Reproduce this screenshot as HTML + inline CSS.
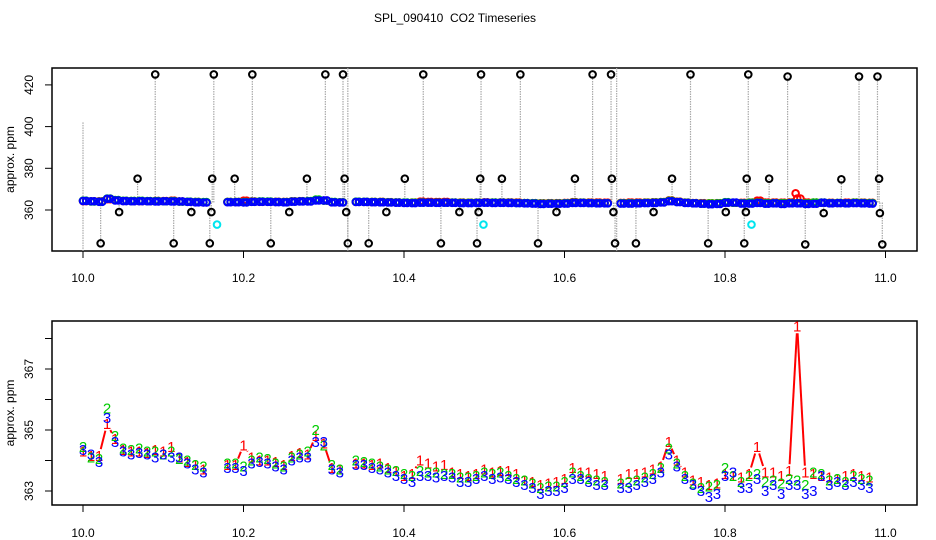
<!DOCTYPE html>
<html><head><meta charset="utf-8"><style>
html,body{margin:0;padding:0;background:#fff;}
svg{display:block;font-family:"Liberation Sans",sans-serif;}
</style></head><body>
<svg id="c" width="936" height="540" viewBox="0 0 936 540">
<text x="455" y="22" font-size="12" text-anchor="middle" style="white-space:pre">SPL_090410  CO2 Timeseries</text>
<g id="topPanel"></g>
<g id="botPanel"></g>
</svg>
<script>
const t0 = 10.0, dt = 0.01;
const xTicks = [10.0, 10.2, 10.4, 10.6, 10.8, 11.0];
const xTickLabels = ["10.0","10.2","10.4","10.6","10.8","11.0"];
const topYTicks = [360, 380, 400, 420];
const botYTicks = [363, 364, 365, 366, 367, 368];
const botYLabels = [363, 365, 367];
const s3 = [364.35,364.2,363.95,365.4,364.6,364.3,364.2,364.25,364.2,364.1,364.2,364.1,364.1,363.9,363.7,363.6,null,null,363.75,363.75,363.65,363.9,363.95,363.9,363.8,363.7,364.0,364.1,364.1,364.6,364.6,363.7,363.6,null,363.85,363.85,363.75,363.7,363.6,363.5,363.4,363.3,363.5,363.5,363.45,363.5,363.45,363.3,363.3,363.4,363.5,363.4,363.45,363.4,363.3,363.2,363.1,362.9,363.0,363.0,363.1,363.4,363.4,363.3,363.2,363.2,null,363.1,363.1,363.2,363.3,363.4,363.6,364.2,363.8,363.4,363.2,363.0,362.8,362.9,363.5,363.6,363.1,363.1,363.4,363.0,363.2,362.9,363.2,363.2,362.9,363.0,363.5,363.2,363.3,363.2,363.3,363.2,363.1];
const s2 = [364.45,364.1,364.05,365.7,364.8,364.4,364.35,364.4,364.3,364.3,364.2,364.3,364.05,364.0,363.85,363.8,null,null,363.9,363.9,363.8,364.0,364.1,364.05,363.9,363.8,364.1,364.2,364.3,365.0,364.5,363.85,363.7,null,364.0,363.95,363.9,363.8,363.7,363.65,363.55,363.5,363.65,363.6,363.6,363.55,363.55,363.45,363.45,363.5,363.6,363.55,363.6,363.5,363.4,363.35,363.25,363.1,363.15,363.15,363.3,363.6,363.5,363.4,363.35,363.3,null,363.25,363.3,363.35,363.45,363.55,363.75,364.4,363.9,363.5,363.25,363.1,363.15,363.2,363.75,363.5,363.3,363.5,363.55,363.3,363.35,363.25,363.4,363.35,363.2,363.6,363.55,363.35,363.4,363.3,363.5,363.4,363.35];
const s1 = [364.3,364.15,364.15,365.2,364.7,364.35,364.3,364.3,364.25,364.35,364.3,364.45,364.1,363.95,363.85,363.7,null,null,363.85,363.85,364.5,364.1,364.0,364.0,363.95,363.85,364.15,364.25,364.2,364.8,364.55,363.75,363.7,null,363.9,363.9,363.85,363.9,363.75,363.65,363.5,363.55,364.0,363.9,363.8,363.85,363.6,363.55,363.5,363.55,363.7,363.6,363.65,363.65,363.55,363.35,363.3,363.2,363.25,363.3,363.4,363.75,363.6,363.6,363.55,363.5,null,363.4,363.55,363.55,363.6,363.7,363.8,364.6,364.0,363.6,363.35,363.3,363.2,363.25,363.55,363.5,363.45,363.55,364.45,363.6,363.6,363.5,363.65,368.4,363.6,363.55,363.5,363.45,363.4,363.5,363.55,363.5,363.45];
const outT = [10.022,10.045,10.068,10.090,10.113,10.135,10.158,10.160,10.161,10.163,10.189,10.211,10.234,10.257,10.279,10.302,10.324,10.326,10.328,10.330,10.356,10.378,10.401,10.424,10.446,10.469,10.491,10.493,10.495,10.496,10.522,10.545,10.567,10.590,10.613,10.635,10.658,10.659,10.661,10.663,10.689,10.711,10.734,10.757,10.779,10.801,10.824,10.826,10.827,10.829,10.855,10.878,10.900,10.923,10.945,10.967,10.990,10.992,10.993,10.996];
const outV = [344,359,375,425,344,359,344,359,375,425,375,425,344,359,375,425,425,375,359,344,344,359,375,425,344,359,344,359,375,425,375,425,344,359,375,425,425,375,359,344,344,359,375,425,344,359,344,359,375,425,375,424,343.5,358.5,374.7,424,424,375,358.5,343.5];
const cyanT = [10.167,10.499,10.833];
const cyanV = [353,353,353];
const redOutT = [10.888];
const redOutV = [368];

const NS = "http://www.w3.org/2000/svg";
const X = t => 83 + (t - 10) * 802.5;
const Ytop = v => 210 - (v - 360) * 2.085;
const Ybot = v => 491 - (v - 363) * 30.5;
function mk(tag, attrs, parent) {
  const e = document.createElementNS(NS, tag);
  for (const k in attrs) e.setAttribute(k, attrs[k]);
  parent.appendChild(e);
  return e;
}
const gTop = document.getElementById('topPanel'), gBot = document.getElementById('botPanel');

function axes(g, y0, y1, labY, yt, yfn, ylabels) {
  const box = mk('rect', {x:52, y:y0, width:865, height:y1-y0, fill:'none', stroke:'#000', 'stroke-width':1.5}, g);
  
  
  xTicks.forEach((t, i) => {
    const l = mk('line', {x1:X(t), x2:X(t), y1:y1, y2:y1+7, stroke:'#000'}, g);
    
    
    const tx = mk('text', {x:X(t), y:labY, 'font-size':12, 'text-anchor':'middle'}, g);
    tx.textContent = xTickLabels[i];
    
    
  });
  yt.forEach(v => {
    const l = mk('line', {x1:45, x2:52, y1:yfn(v), y2:yfn(v), stroke:'#000'}, g);
    
    
  });
  ylabels.forEach(v => {
    const tx = mk('text', {x:0, y:0, 'font-size':12, 'text-anchor':'middle', transform:`translate(33,${yfn(v)}) rotate(-90)`}, g);
    tx.textContent = v;
    
    
  });
  const at = mk('text', {x:0, y:0, 'font-size':12, 'text-anchor':'middle', transform:`translate(14,${(y0+y1)/2}) rotate(-90)`}, g);
  at.textContent = 'approx. ppm';
  
  
}
axes(gTop, 68, 251, 282, topYTicks, Ytop, topYTicks);
axes(gBot, 321, 505, 537, botYTicks, Ybot, botYLabels);

[[10.0,402,340],[10.33,430,340],[10.665,430,340]].forEach(a => {
  const l = mk('line', {x1:X(a[0]), x2:X(a[0]), y1:Math.max(68,Ytop(a[1])), y2:251, stroke:'#aaa', 'stroke-width':1.2, 'stroke-dasharray':'1.5 1'}, gTop);
  
  
});
outT.forEach((t, i) => {
  const l = mk('line', {x1:X(t), x2:X(t), y1:Ytop(363.6), y2:Ytop(outV[i]), stroke:'#aaa', 'stroke-width':1.2, 'stroke-dasharray':'1.5 1'}, gTop);
  
  
});
[[s1,'#ff0000'],[s2,'#00cd00'],[s3,'#0000ff']].forEach(([s, col]) => {
  s.forEach((v, i) => {
    if (v === null) return;
    const t = t0 + i * dt;
    [0, 0.004].forEach(o => {
      const c = mk('circle', {cx:X(t + o), cy:Ytop(Math.min(v, 365.5)), r:3.3, fill:'none', stroke:col, 'stroke-width':2}, gTop);
      
      
    });
  });
});
outT.forEach((t, i) => {
  const c = mk('circle', {cx:X(t), cy:Ytop(outV[i]), r:3.3, fill:'none', stroke:'#000', 'stroke-width':2}, gTop);
  
  
});
cyanT.forEach((t, i) => {
  const c = mk('circle', {cx:X(t), cy:Ytop(cyanV[i]), r:3.3, fill:'none', stroke:'#00e5ee', 'stroke-width':2}, gTop);
  
  
});
redOutT.forEach((t, i) => {
  const c = mk('circle', {cx:X(t), cy:Ytop(redOutV[i]), r:3.3, fill:'none', stroke:'#ff0000', 'stroke-width':2}, gTop);
  
  
});

// red series line with gaps around points (type "b")
for (let i = 0; i + 1 < s1.length; i++) {
  if (s1[i] === null || s1[i+1] === null) continue;
  const x1 = X(t0 + i*dt), y1 = Ybot(s1[i]), x2 = X(t0 + (i+1)*dt), y2 = Ybot(s1[i+1]);
  const len = Math.hypot(x2-x1, y2-y1), g = 7;
  if (len <= 2*g) continue;
  const ux = (x2-x1)/len, uy = (y2-y1)/len;
  const l = mk('line', {x1:x1+ux*g, y1:y1+uy*g, x2:x2-ux*g, y2:y2-uy*g, stroke:'#ff0000', 'stroke-width':2}, gBot);
  
  
}
[[s1,'#ff0000','1'],[s2,'#00cd00','2'],[s3,'#0000ff','3']].forEach(([s, col, ch]) => {
  s.forEach((v, i) => {
    if (v === null) return;
    const tx = mk('text', {x:X(t0 + i * dt), y:Ybot(v) + 5, 'font-size':15, fill:col, 'text-anchor':'middle'}, gBot);
    tx.textContent = ch;
    
    
  });
});
</script>
</body></html>
